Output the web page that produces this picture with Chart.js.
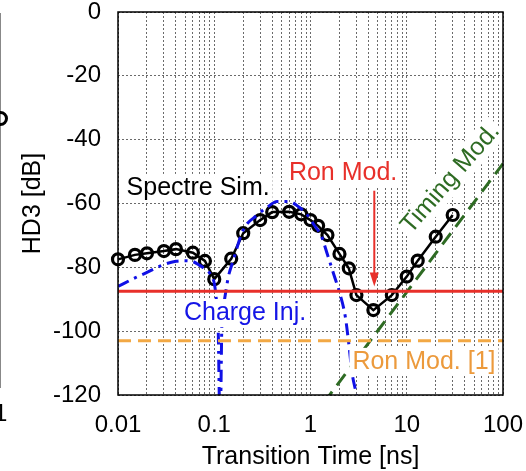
<!DOCTYPE html>
<html>
<head>
<meta charset="utf-8">
<script src="https://cdn.jsdelivr.net/npm/chart.js@4.4.0/dist/chart.umd.min.js"></script>
<style>
  html, body { margin: 0; padding: 0; background: #fff; }
  #wrap { position: relative; width: 526px; height: 471px; overflow: hidden; }
  #chart { position: absolute; left: 0; top: 0; }
  /* piece of the neighbouring figure, cut off on the left */
  .frag-line { position: absolute; left: 0; top: 13px; width: 1px; height: 375px; background: #888; }
  .frag-dot { position: absolute; left: -7px; top: 111px; width: 9px; height: 9px; border: 3px solid #000; border-radius: 50%; }
  .frag-num { position: absolute; left: -6px; top: 399px; font: 24px 'Liberation Sans', Arial, sans-serif; color: #000; }
</style>
</head>
<body>
<div id="wrap">
  <canvas id="chart" width="526" height="471"></canvas>
  <div class="frag-line"></div>
  <div class="frag-dot"></div>
  <div class="frag-num">1</div>
</div>
<script>
// Spectre simulation (black circles)
const spectreTime = [0.01, 0.015, 0.02, 0.03, 0.04, 0.06, 0.08, 0.1, 0.15, 0.2, 0.3, 0.4, 0.6, 0.8, 1, 1.2, 1.5, 2, 2.5, 3, 4.5, 7, 10, 13, 20, 30];
const spectreHD3  = [-77.5, -76.1, -75.6, -74.9, -74.3, -75.4, -78.0, -83.7, -77.3, -69.3, -65.2, -62.7, -62.6, -63.4, -65.2, -67.0, -69.9, -75.8, -80.3, -88.7, -93.4, -88.7, -82.9, -77.9, -70.4, -63.6];

// Charge injection model (blue dash-dot)
const chargeTime = [0.01, 0.015, 0.02, 0.03, 0.04, 0.05, 0.06, 0.07, 0.08, 0.09, 0.1, 0.105, 0.11, 0.114, 0.116, 0.12, 0.128, 0.14, 0.158, 0.2, 0.28, 0.36, 0.45, 0.6, 0.75, 0.9, 1.1, 1.3, 1.5, 1.75, 2, 2.3, 2.5, 2.7, 3, 3.2];
const chargeHD3  = [-86, -83.3, -81.6, -79.1, -78.1, -77.9, -78.2, -79.3, -80.5, -81.9, -85, -90, -100, -125, -125, -98, -90, -83, -77.7, -68.3, -63.6, -61, -59.4, -59.4, -61, -63.1, -66.9, -70.3, -76, -82.3, -87.8, -95.5, -104, -113, -120, -126];

// Timing model (green dashed, straight on log axis)
const timingTime = [1, 100];
const timingHD3  = [-128, -47.5];

// Ron modulation levels
const ronModHD3 = -87.5;
const ronModRefHD3 = -103;

const xRange = [0.01, 100];
const xTickLabels = ['0.01', '0.1', '1', '10', '100'];
const yTickLabels = ['0', '-20', '-40', '-60', '-80', '-100', '-120'];

const FONT = "'Liberation Sans', Arial, Helvetica, sans-serif";

function pairs(xs, ys) {
  return xs.map((x, i) => ({ x: x, y: ys[i] }));
}

// text labels placed in data coordinates
const notes = [
  { text: 'Spectre Sim.', x: 0.068, y: -54.8, color: '#000000', angle: 0 },
  { text: 'Ron Mod.', x: 2.18, y: -50.1, color: '#e8302a', angle: 0 },
  { text: 'Charge Inj.', x: 0.209, y: -94, color: '#1515e6', angle: 0 },
  { text: 'Ron Mod. [1]', x: 15.1, y: -109.3, color: '#ec9a3c', angle: 0 },
  { text: 'Timing Mod.', x: 28, y: -52, color: '#2e6b23', angle: -49 }
];
const arrow = { x: 4.6, from: -56, to: -86, color: '#e8302a' };

const notesPlugin = {
  id: 'notes',
  afterDatasetsDraw(chart) {
    const { ctx, chartArea, scales } = chart;
    ctx.save();
    // arrow
    const ax = scales.x.getPixelForValue(arrow.x);
    const ay1 = scales.y.getPixelForValue(arrow.from);
    const ay2 = scales.y.getPixelForValue(arrow.to);
    ctx.strokeStyle = arrow.color;
    ctx.fillStyle = arrow.color;
    ctx.lineWidth = 2;
    ctx.beginPath();
    ctx.moveTo(ax, ay1);
    ctx.lineTo(ax, ay2 - 10);
    ctx.stroke();
    ctx.beginPath();
    ctx.moveTo(ax, ay2);
    ctx.lineTo(ax - 4.5, ay2 - 14);
    ctx.lineTo(ax + 4.5, ay2 - 14);
    ctx.closePath();
    ctx.fill();

    ctx.font = '25px ' + FONT;
    ctx.textAlign = 'center';
    ctx.textBaseline = 'middle';
    notes.forEach(n => {
      const px = scales.x.getPixelForValue(n.x);
      const py = scales.y.getPixelForValue(n.y);
      const w = ctx.measureText(n.text).width;
      ctx.save();
      ctx.translate(px, py);
      ctx.rotate(n.angle * Math.PI / 180);
      ctx.fillStyle = '#ffffff';
      ctx.fillRect(-w / 2 - 3, -13, w + 6, 28);
      ctx.fillStyle = n.color;
      ctx.fillText(n.text, 0, 1);
      ctx.restore();
    });

    // plot frame
    ctx.strokeStyle = '#000';
    ctx.lineWidth = 1.5;
    ctx.strokeRect(chartArea.left, chartArea.top, chartArea.right - chartArea.left, chartArea.bottom - chartArea.top);
    ctx.restore();
  }
};

new Chart(document.getElementById('chart'), {
  type: 'line',
  data: {
    datasets: [
      {
        label: 'Ron Mod. [1]',
        data: pairs(xRange, [ronModRefHD3, ronModRefHD3]),
        borderColor: '#f2a844',
        borderWidth: 3,
        borderDash: [13, 7],
        pointRadius: 0
      },
      {
        label: 'Ron Mod.',
        data: pairs(xRange, [ronModHD3, ronModHD3]),
        borderColor: '#e8302a',
        borderWidth: 3,
        pointRadius: 0
      },
      {
        label: 'Timing Mod.',
        data: pairs(timingTime, timingHD3),
        borderColor: '#2e6b23',
        borderWidth: 3,
        borderDash: [14, 8],
        pointRadius: 0
      },
      {
        label: 'Charge Inj.',
        data: pairs(chargeTime, chargeHD3),
        borderColor: '#1010e6',
        borderWidth: 3,
        borderDash: [12, 6, 3, 6],
        pointRadius: 0,
        tension: 0.3,
        cubicInterpolationMode: 'monotone'
      },
      {
        label: 'Spectre Sim.',
        data: pairs(spectreTime, spectreHD3),
        borderColor: '#000',
        borderWidth: 2.5,
        pointRadius: 5.5,
        pointBorderWidth: 3.2,
        pointBackgroundColor: 'rgba(0,0,0,0)',
        pointBorderColor: '#000',
        clip: false
      }
    ]
  },
  options: {
    responsive: false,
    animation: false,
    devicePixelRatio: 1,
    layout: { padding: { left: 0, top: 12, right: 23, bottom: 0 } },
    plugins: { legend: { display: false }, tooltip: { enabled: false } },
    scales: {
      x: {
        type: 'logarithmic',
        min: xRange[0],
        max: xRange[1],
        afterBuildTicks(scale) {
          const ticks = [];
          for (let e = -2; e <= 2; e++) {
            for (let m = 1; m <= 9; m++) {
              const v = Number((m * Math.pow(10, e)).toPrecision(3));
              if (v <= xRange[1]) ticks.push({ value: v });
            }
          }
          scale.ticks = ticks;
        },
        afterFit(scale) {
          scale.height = 76;
          scale.paddingLeft = 0;
          scale.paddingRight = 0;
        },
        ticks: {
          autoSkip: false,
          maxRotation: 0,
          padding: 18,
          color: '#000',
          font: { family: FONT, size: 24, lineHeight: 1 },
          callback: v => xTickLabels.includes(String(v)) ? String(v) : ''
        },
        grid: { color: '#6a6a6a', lineWidth: 1, drawTicks: false },
        border: { display: false, dash: [2, 2] },
        title: {
          display: true,
          text: 'Transition Time [ns]',
          color: '#000',
          font: { family: FONT, size: 25, lineHeight: 1 },
          padding: { top: 0, bottom: 1 }
        }
      },
      y: {
        min: -120,
        max: 0,
        afterBuildTicks(scale) {
          scale.ticks = yTickLabels.map(t => ({ value: Number(t) }));
        },
        afterFit(scale) {
          scale.width = 118;
          scale.paddingTop = 0;
          scale.paddingBottom = 0;
        },
        ticks: {
          padding: 17,
          color: '#000',
          font: { family: FONT, size: 24, lineHeight: 1 },
          callback: v => String(v)
        },
        grid: { color: '#6a6a6a', lineWidth: 1, drawTicks: false },
        border: { display: false, dash: [2, 2] },
        title: {
          display: true,
          text: 'HD3 [dB]',
          color: '#000',
          font: { family: FONT, size: 25, lineHeight: 1 },
          padding: { top: 21, bottom: 0 }
        }
      }
    }
  },
  plugins: [notesPlugin]
});
</script>
</body>
</html>
